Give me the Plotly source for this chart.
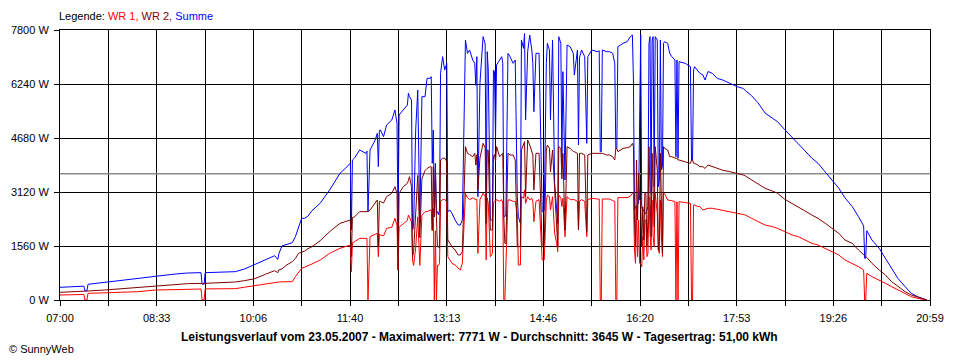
import plotly.graph_objects as go

# minutes after 07:00
t_min = [
    0, 12, 23, 24, 26, 27, 43, 58, 75, 92,
    111, 123, 136, 137, 139, 140, 162, 169, 178, 188,
    198, 204, 207, 210, 211, 214, 218, 224, 227, 230,
    233, 236, 239, 243, 251, 260, 270, 275, 280, 281,
    282, 284, 289, 295, 296, 297, 299, 304, 306, 307,
    308, 309, 312, 315, 320, 323, 325, 326, 327, 331,
    335, 336, 337, 339, 340, 341, 343, 345, 347, 349,
    352, 354, 357, 358, 359, 360, 361, 362, 363, 364,
    365, 366, 367, 369, 371, 373, 374, 376, 378, 381,
    384, 386, 388, 391, 393, 395, 398, 400, 401, 402,
    403, 405, 408, 410, 411, 412, 413, 415, 417, 418,
    419, 420, 421, 424, 426, 427, 428, 429, 430, 432,
    434, 437, 439, 441, 442, 444, 445, 447, 448, 449,
    451, 453, 455, 456, 457, 459, 462, 465, 466, 467,
    469, 470, 472, 473, 475, 477, 479, 480, 481, 483,
    484, 485, 487, 489, 492, 495, 496, 499, 500, 501,
    503, 506, 508, 509, 513, 518, 520, 521, 522, 523,
    527, 530, 533, 535, 536, 537, 538, 543, 547, 550,
    552, 553, 554, 555, 556, 557, 558, 559, 560, 561,
    562, 563, 564, 565, 566, 567, 568, 569, 570, 571,
    572, 573, 574, 576, 577, 578, 579, 580, 581, 582,
    583, 586, 588, 590, 593, 594, 595, 596, 597, 603,
    608, 609, 610, 611, 612, 615, 617, 620, 622, 625,
    629, 634, 639, 646, 653, 659, 661, 667, 673, 680,
    687, 692, 699, 706, 712, 718, 725, 731, 738, 745,
    751, 757, 764, 770, 775, 776, 777, 778, 783, 790,
    796, 802, 808, 815, 821, 827, 831, 836,
]

wr1 = [
    144, 150, 160, 0, 0, 193, 200, 222, 240, 289,
    300, 310, 318, 0, 0, 320, 327, 327, 370, 420,
    470, 501, 510, 515, 520, 525, 530, 530, 674, 800,
    915, 950, 982, 1040, 1156, 1348, 1493, 1540, 1589, 818,
    1650, 1685, 1781, 1780, 1780, 0, 1830, 1900, 1926, 1250,
    1900, 1880, 1850, 2070, 2100, 2359, 2150, 867, 2100, 2200,
    2300, 2456, 2400, 2263, 1156, 1000, 1500, 2400, 1000, 2450,
    2552, 2552, 2600, 2600, 2000, 2650, 0, 2000, 0, 1000,
    1000, 1059, 2850, 2900, 2900, 2850, 1250, 1150, 1059, 1011,
    915, 867, 1059, 3082, 2950, 2900, 2950, 2900, 2900, 2900,
    1348, 2900, 3082, 3000, 1156, 2950, 2793, 1252, 1348, 2793,
    2850, 2850, 2900, 2850, 2900, 2793, 0, 0, 1059, 2890,
    2890, 2850, 2850, 2504, 1011, 1011, 2985, 2940, 3178, 2793,
    2985, 2890, 2940, 2850, 2263, 2850, 2900, 1156, 1156, 1156,
    2850, 3030, 2985, 2600, 2985, 1926, 1637, 1396, 3030, 2940,
    2700, 2940, 1830, 2985, 2900, 2900, 2900, 2850, 2022, 2850,
    2900, 2850, 1830, 2900, 2940, 2918, 2918, 0, 0, 2918,
    2918, 2918, 2870, 2850, 0, 0, 2957, 2957, 2957, 3000,
    3082, 3082, 1445, 1059, 2700, 1252, 2311, 1059, 1059, 963,
    1830, 1156, 2311, 2311, 1252, 1350, 2985, 1926, 1445, 2889,
    1830, 1541, 3082, 2504, 1445, 1348, 2889, 1830, 1252, 3082,
    3082, 2889, 2889, 2870, 2840, 0, 2840, 0, 2840, 2810,
    2793, 0, 0, 2745, 2745, 2700, 2700, 2600, 2620, 2650,
    2650, 2620, 2600, 2552, 2504, 2480, 2456, 2359, 2263, 2167,
    2119, 2070, 1974, 1878, 1830, 1733, 1637, 1589, 1493, 1396,
    1300, 1156, 1059, 963, 867, 0, 0, 770, 674, 578,
    482, 385, 289, 193, 96, 48, 30, 0,
]

wr2 = [
    222, 230, 240, 250, 250, 260, 289, 320, 376, 400,
    440, 472, 480, 470, 470, 482, 501, 520, 559, 617,
    742, 800, 847, 790, 870, 896, 1000, 1108, 1200, 1348,
    1390, 1413, 1480, 1541, 1714, 1974, 2215, 2260, 2311, 1252,
    2380, 2400, 2552, 2552, 2552, 2552, 2600, 2800, 2889, 1541,
    2850, 2850, 2800, 2985, 3082, 3274, 3082, 867, 3082, 3274,
    3371, 3450, 3563, 3274, 1252, 1400, 2400, 3600, 1800, 3500,
    3740, 3800, 3852, 3852, 2022, 3852, 2400, 3800, 2400, 1541,
    1541, 1500, 4045, 4093, 4100, 4000, 1733, 1637, 1541, 1445,
    1300, 1300, 1396, 4430, 4237, 4200, 4140, 4237, 3900, 4200,
    3178, 4100, 4526, 4400, 2215, 4330, 4330, 2022, 2022, 4140,
    4200, 4000, 4430, 4140, 4200, 4237, 2400, 1637, 1637, 4237,
    4190, 4190, 4045, 1541, 1541, 1541, 4334, 4478, 4574, 2985,
    4622, 4478, 4285, 4190, 3178, 4237, 4237, 1541, 1541, 1637,
    4334, 4478, 4382, 3700, 4334, 3178, 1830, 1541, 4430, 4380,
    3500, 4237, 2022, 4430, 4380, 4285, 4285, 4237, 2022, 4237,
    4237, 4190, 1974, 4190, 4237, 4237, 4237, 4237, 4237, 4237,
    4190, 4190, 4140, 4044, 4380, 4380, 4285, 4380, 4400, 4430,
    4526, 4430, 2311, 1541, 4044, 2311, 3660, 2889, 2889, 1541,
    2696, 1733, 3082, 3082, 1541, 2311, 4430, 3274, 1830, 4237,
    2696, 2119, 4430, 3756, 1445, 1733, 4237, 2311, 1348, 4430,
    4382, 4334, 4140, 4140, 4093, 4093, 4093, 4045, 4045, 4000,
    3948, 4044, 4044, 3948, 3948, 3900, 3850, 3852, 3800, 3900,
    3852, 3800, 3750, 3707, 3660, 3610, 3582, 3467, 3371, 3226,
    3149, 3082, 2908, 2793, 2696, 2581, 2456, 2359, 2215, 2070,
    1926, 1733, 1637, 1445, 1300, 1252, 1252, 1230, 1059, 867,
    722, 530, 385, 241, 144, 77, 40, 0,
]

summe = [
    366, 380, 400, 270, 270, 453, 511, 560, 627, 690,
    750, 780, 790, 460, 460, 790, 800, 818, 896, 1031,
    1147, 1240, 1280, 1170, 1330, 1560, 1590, 1655, 1829, 2118,
    2359, 2360, 2420, 2580, 2800, 3178, 3659, 3800, 3948, 2022,
    4045, 4100, 4334, 4237, 4300, 2552, 4334, 4622, 4815, 3852,
    4900, 4911, 4718, 5056, 5200, 5489, 5100, 2215, 5345, 5489,
    5633, 5971, 5874, 5778, 2022, 2118, 4900, 6067, 2215, 5874,
    5874, 6404, 6404, 6452, 3948, 4911, 2407, 3948, 2500, 2552,
    2460, 2600, 6548, 7030, 6644, 6837, 2552, 2600, 2504, 2311,
    2167, 2167, 2311, 7511, 7126, 7222, 6933, 6837, 6200, 7030,
    2985, 6260, 7608, 7400, 2552, 7174, 6644, 2311, 2311, 6644,
    6600, 4671, 6789, 6933, 7030, 6837, 2407, 2407, 2455, 7126,
    7030, 6837, 6933, 2985, 2407, 2215, 7511, 7270, 7700, 5200,
    7174, 7655, 7222, 6837, 5441, 7126, 7126, 2552, 2552, 2600,
    6837, 7415, 7222, 5200, 7511, 3371, 2407, 2215, 7607, 7415,
    3948, 6597, 3467, 7366, 7318, 7126, 6500, 7222, 4478, 7000,
    7222, 7030, 4526, 7030, 7222, 7174, 7200, 4285, 4285, 7222,
    7174, 7174, 7126, 6837, 4382, 4382, 7318, 7415, 7463, 7608,
    7655, 6356, 2600, 2696, 2696, 2793, 2793, 5000, 7655, 2696,
    2600, 2600, 2504, 2504, 2600, 2696, 7415, 7608, 3082, 7511,
    7608, 3274, 7608, 7511, 3274, 3467, 7511, 3756, 3852, 7415,
    7463, 7415, 7126, 7030, 6933, 4140, 6933, 4093, 6885, 6837,
    6741, 4044, 4044, 6644, 6741, 6644, 6550, 6500, 6356, 6600,
    6548, 6400, 6356, 6260, 6163, 6110, 6048, 5900, 5700, 5400,
    5250, 5150, 4920, 4700, 4500, 4310, 4100, 3950, 3700, 3470,
    3230, 2950, 2700, 2410, 2140, 1204, 1204, 2003, 1733, 1493,
    1204, 915, 626, 385, 193, 96, 48, 0,
]

mean_w = 3645
y_ticks = [0, 1560, 3120, 4680, 6240, 7800]
x_labels = ["07:00", "08:33", "10:06", "11:40", "13:13",
            "14:46", "16:20", "17:53", "19:26", "20:59"]
day_span = 839  # minutes from 07:00 to 20:59

assert len(t_min) == len(wr1) == len(wr2) == len(summe)

tickvals = [i * day_span / 18 for i in range(19)]
ticktext = [x_labels[i // 2] if i % 2 == 0 else "" for i in range(19)]

FONT = "Liberation Sans, Arial, sans-serif"

fig = go.Figure()
fig.add_trace(go.Scatter(x=[0, day_span], y=[mean_w, mean_w], mode="lines",
                         line=dict(color="#8c8c8c", width=1.5), hoverinfo="skip",
                         name="Durchschnitt"))
fig.add_trace(go.Scatter(x=t_min, y=summe, mode="lines",
                         line=dict(color="#0000ff", width=1), name="Summe"))
fig.add_trace(go.Scatter(x=t_min, y=wr1, mode="lines",
                         line=dict(color="#ff0000", width=1), name="WR 1"))
fig.add_trace(go.Scatter(x=t_min, y=wr2, mode="lines",
                         line=dict(color="#800000", width=1), name="WR 2"))

# page has an 8px body margin: figure is 952x352 so the plot area lands at
# x 60..930, y 30..300 in the 960x360 window
fig.update_layout(
    width=952, height=352,
    margin=dict(l=52, r=30, t=22, b=60),
    plot_bgcolor="white", paper_bgcolor="white",
    showlegend=False,
    font=dict(family=FONT, size=11, color="black"),
)
fig.update_xaxes(range=[0, day_span], tickvals=tickvals, ticktext=ticktext,
                 showgrid=True, gridcolor="black", gridwidth=1,
                 ticks="outside", ticklen=5, tickcolor="black", tickwidth=1,
                 showline=True, linecolor="black", linewidth=1, mirror=True,
                 zeroline=False, tickfont=dict(size=11), ticklabelstandoff=3,
                 automargin=False)
fig.update_yaxes(range=[0, 7800], tickvals=y_ticks,
                 ticktext=[f"{v} W" for v in y_ticks],
                 showgrid=True, gridcolor="black", gridwidth=1,
                 ticks="outside", ticklen=5, tickcolor="black", tickwidth=1,
                 showline=True, linecolor="black", linewidth=1, mirror=True,
                 zeroline=False, tickfont=dict(size=11), ticklabelstandoff=3,
                 automargin=False)

fig.add_annotation(
    xref="paper", yref="paper", x=-3 / 870, y=1 + 14 / 270, xanchor="left", yanchor="middle",
    showarrow=False, font=dict(family=FONT, size=11, color="black"),
    text=("Legende: <span style='color:#ff0000'>WR 1,</span> "
          "<span style='color:#800000'>WR 2,</span> "
          "<span style='color:#0000ff'>Summe</span>"))
fig.add_annotation(
    xref="paper", yref="paper", x=(479 - 60) / 870, y=-37 / 270,
    xanchor="center", yanchor="middle", showarrow=False,
    font=dict(family=FONT, size=12, color="black"),
    text=("<b>Leistungsverlauf vom 23.05.2007 - Maximalwert: 7771 W - "
          "Durchschnitt: 3645 W - Tagesertrag: 51,00 kWh</b>"))
fig.add_annotation(
    xref="paper", yref="paper", x=-53 / 870, y=-49 / 270,
    xanchor="left", yanchor="middle", showarrow=False,
    font=dict(family=FONT, size=11, color="black"),
    text="© SunnyWeb")

fig.write_html("out.html")
